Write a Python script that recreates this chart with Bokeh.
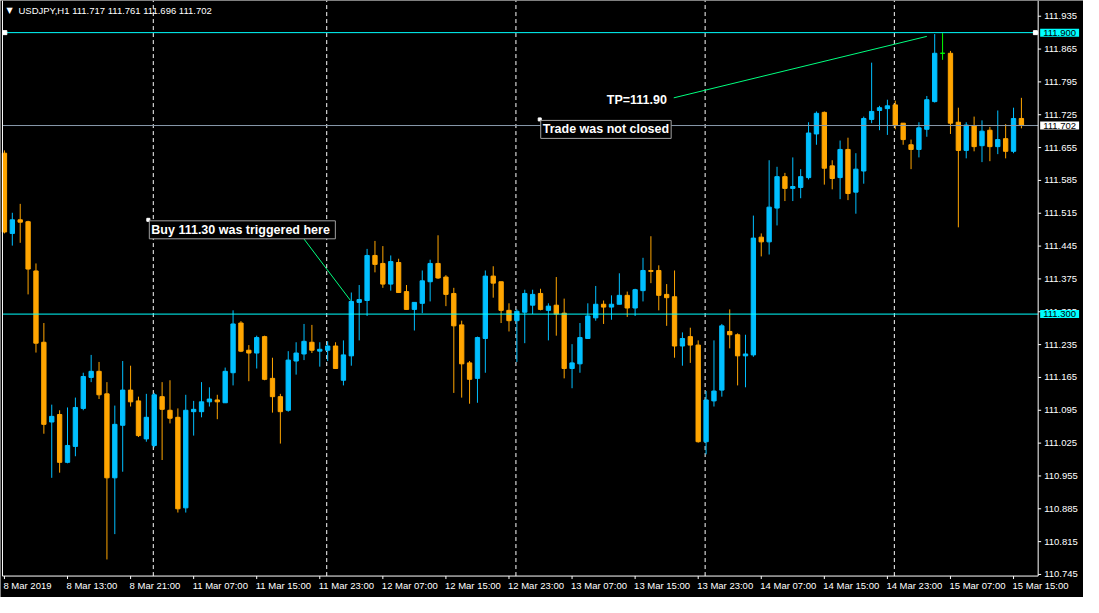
import pandas as pd
from bokeh.plotting import figure
from bokeh.models import Range1d, Label, ColumnDataSource
from bokeh.embed import file_html
from bokeh.resources import INLINE

# ---------------- data (USDJPY, H1) ----------------
opens = [111.643, 111.472, 111.501, 111.497, 111.392, 111.240, 111.070, 111.086, 110.984, 111.018,
         111.099, 111.165, 111.178, 111.130, 110.951, 111.063, 111.138, 111.115, 111.034, 111.020,
         111.124, 111.095, 111.080, 110.887, 111.092, 111.092, 111.113, 111.117, 111.111, 111.175,
         111.281, 111.223, 111.217, 111.252, 111.163, 111.124, 111.095, 111.200, 111.215, 111.240,
         111.221, 111.223, 111.232, 111.159, 111.211, 111.325, 111.329, 111.425, 111.408, 111.364,
         111.410, 111.348, 111.310, 111.323, 111.369, 111.408, 111.379, 111.344, 111.277, 111.196,
         111.163, 111.248, 111.381, 111.369, 111.308, 111.286, 111.304, 111.319, 111.344, 111.308,
         111.319, 111.302, 111.184, 111.194, 111.248, 111.292, 111.321, 111.315, 111.321, 111.340,
         111.313, 111.350, 111.393, 111.393, 111.342, 111.337, 111.232, 111.252, 111.234, 111.028,
         111.115, 111.138, 111.263, 111.256, 111.211, 111.213, 111.464, 111.454, 111.526, 111.593,
         111.568, 111.570, 111.591, 111.684, 111.730, 111.616, 111.591, 111.651, 111.560, 111.605,
         111.715, 111.734, 111.738, 111.746, 111.707, 111.661, 111.651, 111.694, 111.753, 111.856,
         111.856, 111.709, 111.649, 111.701, 111.659, 111.692, 111.657, 111.674, 111.647, 111.717]
highs = [111.649, 111.516, 111.535, 111.499, 111.408, 111.281, 111.107, 111.095, 111.101, 111.122,
         111.175, 111.213, 111.198, 111.155, 111.105, 111.200, 111.190, 111.124, 111.130, 111.132,
         111.155, 111.159, 111.099, 111.128, 111.115, 111.155, 111.144, 111.128, 111.186, 111.308,
         111.285, 111.234, 111.254, 111.254, 111.207, 111.130, 111.221, 111.240, 111.279, 111.277,
         111.240, 111.242, 111.240, 111.244, 111.346, 111.362, 111.439, 111.456, 111.445, 111.425,
         111.418, 111.362, 111.325, 111.393, 111.416, 111.468, 111.383, 111.356, 111.286, 111.200,
         111.252, 111.393, 111.402, 111.369, 111.323, 111.310, 111.352, 111.352, 111.354, 111.323,
         111.379, 111.333, 111.236, 111.281, 111.323, 111.360, 111.329, 111.340, 111.387, 111.348,
         111.354, 111.420, 111.466, 111.404, 111.364, 111.393, 111.261, 111.271, 111.244, 111.136,
         111.244, 111.279, 111.310, 111.259, 111.256, 111.510, 111.472, 111.628, 111.614, 111.601,
         111.634, 111.609, 111.709, 111.732, 111.732, 111.628, 111.670, 111.676, 111.643, 111.721,
         111.836, 111.744, 111.757, 111.755, 111.707, 111.672, 111.709, 111.765, 111.897, 111.899,
         111.861, 111.740, 111.709, 111.721, 111.713, 111.699, 111.734, 111.705, 111.740, 111.761]
lows = [111.472, 111.446, 111.452, 111.342, 111.218, 111.045, 110.951, 110.962, 110.982, 110.997,
        111.095, 111.155, 111.119, 110.777, 110.831, 110.964, 111.103, 111.038, 111.028, 111.016,
        110.989, 111.067, 110.877, 110.877, 111.041, 111.080, 111.103, 111.076, 111.111, 111.148,
        111.219, 111.157, 111.184, 111.159, 111.090, 111.024, 111.092, 111.171, 111.202, 111.217,
        111.188, 111.200, 111.184, 111.148, 111.190, 111.244, 111.296, 111.389, 111.356, 111.350,
        111.346, 111.310, 111.265, 111.302, 111.327, 111.375, 111.317, 111.132, 111.122, 111.109,
        111.111, 111.175, 111.335, 111.281, 111.263, 111.198, 111.238, 111.300, 111.308, 111.244,
        111.254, 111.163, 111.142, 111.175, 111.248, 111.286, 111.279, 111.288, 111.321, 111.294,
        111.296, 111.327, 111.366, 111.308, 111.275, 111.207, 111.190, 111.196, 111.026, 111.001,
        111.103, 111.124, 111.227, 111.148, 111.144, 111.209, 111.423, 111.427, 111.489, 111.541,
        111.541, 111.547, 111.587, 111.661, 111.576, 111.566, 111.545, 111.543, 111.514, 111.578,
        111.707, 111.692, 111.682, 111.694, 111.661, 111.609, 111.634, 111.678, 111.751, 111.842,
        111.684, 111.485, 111.632, 111.647, 111.624, 111.626, 111.641, 111.632, 111.643, 111.696]
closes = [111.475, 111.501, 111.496, 111.396, 111.238, 111.065, 111.082, 110.984, 111.020, 111.101,
          111.167, 111.178, 111.128, 110.951, 111.065, 111.138, 111.113, 111.041, 111.080, 111.128,
          111.097, 111.078, 110.885, 111.095, 111.097, 111.113, 111.119, 111.113, 111.178, 111.279,
          111.221, 111.217, 111.250, 111.161, 111.124, 111.092, 111.202, 111.217, 111.242, 111.223,
          111.225, 111.232, 111.184, 111.213, 111.327, 111.331, 111.425, 111.406, 111.364, 111.412,
          111.346, 111.310, 111.325, 111.371, 111.408, 111.377, 111.342, 111.275, 111.194, 111.161,
          111.250, 111.381, 111.366, 111.308, 111.286, 111.306, 111.344, 111.342, 111.310, 111.317,
          111.300, 111.184, 111.196, 111.250, 111.296, 111.321, 111.315, 111.321, 111.340, 111.313,
          111.352, 111.393, 111.391, 111.340, 111.335, 111.232, 111.248, 111.234, 111.028, 111.117,
          111.136, 111.275, 111.256, 111.211, 111.215, 111.462, 111.454, 111.528, 111.593, 111.568,
          111.572, 111.593, 111.686, 111.728, 111.611, 111.589, 111.651, 111.557, 111.609, 111.717,
          111.732, 111.740, 111.744, 111.703, 111.672, 111.651, 111.697, 111.757, 111.856, 111.856,
          111.707, 111.649, 111.703, 111.657, 111.690, 111.657, 111.672, 111.647, 111.717, 111.702]

# trading sessions (date, first hour, last hour) -> one bar per hour
sessions = [("2019-03-08", 5, 23), ("2019-03-11", 2, 23), ("2019-03-12", 0, 23),
            ("2019-03-13", 0, 23), ("2019-03-14", 0, 23), ("2019-03-15", 0, 16)]

price_ticks = [110.745, 110.815, 110.885, 110.955, 111.025, 111.095, 111.165, 111.235, 111.305,
               111.375, 111.445, 111.515, 111.585, 111.655, 111.725, 111.795, 111.865, 111.935]

symbol = "USDJPY,H1"
tp_level = 111.900
buy_level = 111.300

# drawn objects (bar index, price)
buy_note = (18.25, 111.501, "Buy 111.30  was triggered here")
open_note = (67.9, 111.715, "Trade was not closed")
tp_note = (76.4, 111.757, "TP=111.90")
buy_line_x = [38.0, 43.9]
buy_line_y = [111.460, 111.329]
tp_line_x = [84.9, 117.0]
tp_line_y = [111.761, 111.892]

# ---------------- build ----------------
times = []
for d, h0, h1 in sessions:
    for h in range(h0, h1 + 1):
        times.append(pd.Timestamp(d) + pd.Timedelta(hours=h))

n = len(closes)
xs = list(range(n))
BLUE, ORANGE, GREEN = "#00bfff", "#ffa500", "#00ff00"
colors = [BLUE if c > o else (ORANGE if c < o else GREEN) for o, c in zip(opens, closes)]
src = ColumnDataSource(dict(x=xs, o=opens, h=highs, l=lows, c=closes,
                            top=[max(o, c) for o, c in zip(opens, closes)],
                            bottom=[min(o, c) for o, c in zip(opens, closes)],
                            color=colors))

# whole canvas is the plotting frame; chart area + price/time scales are drawn inside it
x_lo, x_hi = -0.5, 136.875
y_lo, y_hi = 110.6959, 111.9685
chart_left = -0.25        # left border of chart area
scale_x = 131.125         # price-scale line
scale_y = 110.7416        # time-scale line

FONT = "Liberation Sans"
p = figure(width=1083, height=597, x_range=Range1d(x_lo, x_hi), y_range=Range1d(y_lo, y_hi),
           x_axis_location=None, y_axis_location=None, output_backend="svg",
           toolbar_location=None, background_fill_color="black", border_fill_color="black",
           min_border=0)
p.grid.visible = False
p.outline_line_color = None

# day separators
seps = [i - 0.12 for i in range(1, n) if times[i].date() != times[i - 1].date()]
p.segment(x0=seps, y0=[scale_y] * len(seps), x1=seps, y1=[y_hi] * len(seps),
          line_color="white", line_dash="4 3", line_width=1)

# candles
p.segment(x0="x", y0="l", x1="x", y1="h", color="color", line_width=1, source=src)
p.vbar(x="x", width=0.55, top="top", bottom="bottom", fill_color="color",
       line_color="color", line_width=1, source=src)

# horizontal levels
bid = closes[-1]
p.segment(x0=[chart_left] * 3, y0=[tp_level, buy_level, bid], x1=[scale_x] * 3,
          y1=[tp_level, buy_level, bid], line_color=["#00ffff", "#00ffff", "#8899aa"],
          line_width=1)

# chart borders / scale lines
p.segment(x0=[chart_left, scale_x, chart_left], y0=[scale_y, scale_y, scale_y],
          x1=[chart_left, scale_x, scale_x], y1=[y_hi, y_hi, scale_y],
          line_color="white", line_width=1)

# price scale ticks + labels
p.ray(x=[scale_x] * len(price_ticks), y=price_ticks, length=3, length_units="screen",
      angle=0, line_color="white", line_width=1)
p.text(x=[scale_x] * len(price_ticks), y=price_ticks, text=[f"{t:.3f}" for t in price_ticks],
       x_offset=6, text_font={"value": FONT}, text_font_size="9.5px", text_color="white",
       text_align="left", text_baseline="middle")

# time scale ticks + labels
tick_idx = list(range(0, n, 8))
tick_lbl = []
for i in tick_idx:
    t = times[i]
    tick_lbl.append(f"{t.day} {t.strftime('%b %Y')}" if i == 0 else f"{t.day} {t.strftime('%b %H:%M')}")
p.ray(x=tick_idx, y=[scale_y] * len(tick_idx), length=3, length_units="screen",
      angle=-1.5707963, line_color="white", line_width=1)
p.text(x=tick_idx, y=[scale_y] * len(tick_idx), text=tick_lbl, x_offset=-1, y_offset=4,
       text_font={"value": FONT}, text_font_size="9.5px", text_color="white",
       text_align="left", text_baseline="top")

# price tags on the scale
for lvl, bg in ((tp_level, "#00ffff"), (buy_level, "#00ffff"), (bid, "white")):
    p.add_layout(Label(x=scale_x, y=lvl, x_offset=2, text=f"{lvl:.3f}", text_font=FONT,
                       text_font_size="9.5px", text_color="black", text_align="left",
                       text_baseline="middle", background_fill_color=bg, padding=(3, 1)))

# selection handles on TP line
p.scatter(x=[chart_left + 0.3, scale_x - 0.35], y=[tp_level, tp_level], marker="square",
          size=4, color="white")

# trend lines
p.line(buy_line_x, buy_line_y, line_color="#00ff7f", line_width=1)
p.line(tp_line_x, tp_line_y, line_color="#00ff7f", line_width=1)

# notes
for nx, ny, txt in (buy_note, open_note):
    p.add_layout(Label(x=nx, y=ny, x_offset=1, y_offset=-1, text=txt, text_font=FONT,
                       text_font_size="12.5px", text_font_style="bold", text_color="white",
                       text_align="left", text_baseline="top", background_fill_color="black",
                       border_line_color="#a0a0a0", border_line_width=1, padding=2))
    p.scatter(x=[nx], y=[ny], marker="square", size=3, color="white")
p.add_layout(Label(x=tp_note[0], y=tp_note[1], text=tp_note[2], text_font=FONT,
                   text_font_size="12.5px", text_font_style="bold", text_color="white",
                   text_align="left", text_baseline="middle"))

# header
p.add_layout(Label(x=chart_left, y=y_hi, x_offset=4, y_offset=-10, text="▼",
                   text_font="DejaVu Sans", text_font_size="8px", text_color="white",
                   text_baseline="middle"))
hdr = f"{symbol}  {opens[-1]:.3f} {highs[-1]:.3f} {lows[-1]:.3f} {closes[-1]:.3f}"
p.add_layout(Label(x=chart_left, y=y_hi, x_offset=16, y_offset=-10, text=hdr, text_font=FONT,
                   text_font_size="9.5px", text_color="white", text_baseline="middle"))

open("out.html", "w").write(file_html(p, INLINE))
